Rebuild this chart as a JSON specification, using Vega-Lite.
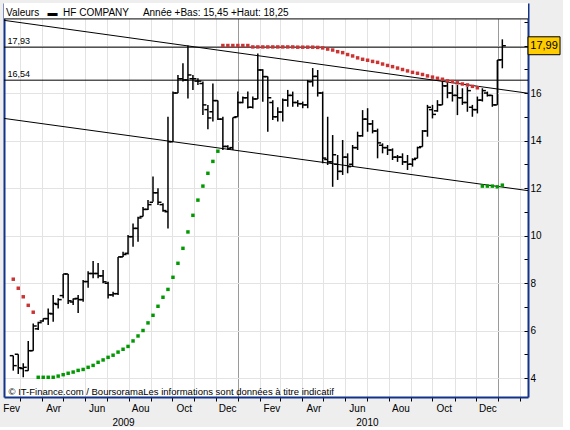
{
  "$schema": "https://vega.github.io/schema/vega-lite/v6.json",
  "width": 524,
  "height": 394,
  "padding": {"left": 2, "top": 3, "right": 0, "bottom": 0},
  "autosize": {"type": "pad"},
  "background": "#eeeeee",
  "config": {
    "view": {"fill": "white", "stroke": null},
    "font": "Liberation Sans",
    "axis": {"labelFont": "Liberation Sans", "labelColor": "#000", "titleFont": "Liberation Sans"}
  },
  "title": {
    "text": "Valeurs\u00a0\u00a0\u00a0▬\u00a0\u00a0HF COMPANY\u00a0\u00a0\u00a0\u00a0\u00a0Année +Bas: 15,45 +Haut: 18,25",
    "anchor": "start", "frame": "group", "orient": "top", "offset": -13, "dx": 2, "dy": 10,
    "font": "Liberation Sans", "fontSize": 10, "fontWeight": "normal", "color": "#000", "baseline": "alphabetic"
  },
  "datasets": {
    "w": [
      {"d": "2009-02-20", "o": 4.94, "h": 4.94, "l": 4.31, "c": 4.52, "s": 8.16, "t": "baisse"},
      {"d": "2009-02-27", "o": 5.0, "h": 5.0, "l": 4.17, "c": 4.43, "s": 7.78, "t": "baisse"},
      {"d": "2009-03-06", "o": 4.4, "h": 4.62, "l": 4.03, "c": 4.45, "s": 7.42, "t": "baisse"},
      {"d": "2009-03-13", "o": 4.31, "h": 5.56, "l": 4.31, "c": 5.15, "s": 7.06, "t": "baisse"},
      {"d": "2009-03-20", "o": 5.15, "h": 6.3, "l": 5.15, "c": 6.19, "s": 6.77, "t": "baisse"},
      {"d": "2009-03-27", "o": 6.07, "h": 6.37, "l": 6.02, "c": 6.33, "s": 4.03, "t": "hausse"},
      {"d": "2009-04-03", "o": 6.4, "h": 6.51, "l": 6.37, "c": 6.5, "s": 4.03, "t": "hausse"},
      {"d": "2009-04-10", "o": 6.5, "h": 6.93, "l": 6.23, "c": 6.72, "s": 4.03, "t": "hausse"},
      {"d": "2009-04-17", "o": 6.7, "h": 7.49, "l": 6.37, "c": 7.14, "s": 4.03, "t": "hausse"},
      {"d": "2009-04-24", "o": 7.1, "h": 7.36, "l": 6.93, "c": 7.3, "s": 4.08, "t": "hausse"},
      {"d": "2009-05-01", "o": 7.47, "h": 8.38, "l": 7.36, "c": 8.38, "s": 4.14, "t": "hausse"},
      {"d": "2009-05-08", "o": 8.38, "h": 8.38, "l": 7.12, "c": 7.25, "s": 4.2, "t": "hausse"},
      {"d": "2009-05-15", "o": 7.2, "h": 7.35, "l": 7.07, "c": 7.33, "s": 4.25, "t": "hausse"},
      {"d": "2009-05-22", "o": 7.35, "h": 7.49, "l": 6.74, "c": 7.3, "s": 4.32, "t": "hausse"},
      {"d": "2009-05-29", "o": 7.3, "h": 8.13, "l": 7.21, "c": 8.06, "s": 4.36, "t": "hausse"},
      {"d": "2009-06-05", "o": 8.06, "h": 8.5, "l": 7.8, "c": 8.4, "s": 4.45, "t": "hausse"},
      {"d": "2009-06-12", "o": 8.4, "h": 8.93, "l": 8.2, "c": 8.4, "s": 4.53, "t": "hausse"},
      {"d": "2009-06-19", "o": 8.4, "h": 8.84, "l": 8.2, "c": 8.3, "s": 4.66, "t": "hausse"},
      {"d": "2009-06-26", "o": 8.3, "h": 8.55, "l": 7.99, "c": 8.05, "s": 4.76, "t": "hausse"},
      {"d": "2009-07-03", "o": 7.99, "h": 8.05, "l": 7.35, "c": 7.5, "s": 4.87, "t": "hausse"},
      {"d": "2009-07-10", "o": 7.5, "h": 7.63, "l": 7.42, "c": 7.55, "s": 4.96, "t": "hausse"},
      {"d": "2009-07-17", "o": 7.55, "h": 9.1, "l": 7.5, "c": 9.1, "s": 5.09, "t": "hausse"},
      {"d": "2009-07-24", "o": 9.1, "h": 9.32, "l": 9.1, "c": 9.2, "s": 5.21, "t": "hausse"},
      {"d": "2009-07-31", "o": 9.25, "h": 10.02, "l": 9.2, "c": 9.95, "s": 5.33, "t": "hausse"},
      {"d": "2009-08-07", "o": 9.95, "h": 10.51, "l": 9.53, "c": 10.3, "s": 5.56, "t": "hausse"},
      {"d": "2009-08-14", "o": 10.3, "h": 10.79, "l": 9.74, "c": 10.74, "s": 5.77, "t": "hausse"},
      {"d": "2009-08-21", "o": 10.8, "h": 11.2, "l": 10.8, "c": 11.1, "s": 6.0, "t": "hausse"},
      {"d": "2009-08-28", "o": 11.1, "h": 11.5, "l": 11.07, "c": 11.3, "s": 6.32, "t": "hausse"},
      {"d": "2009-09-04", "o": 11.4, "h": 12.48, "l": 11.42, "c": 11.8, "s": 6.64, "t": "hausse"},
      {"d": "2009-09-11", "o": 11.8, "h": 11.99, "l": 11.28, "c": 11.4, "s": 7.02, "t": "hausse"},
      {"d": "2009-09-18", "o": 11.3, "h": 11.36, "l": 11.0, "c": 11.05, "s": 7.4, "t": "hausse"},
      {"d": "2009-09-25", "o": 11.0, "h": 15.0, "l": 10.3, "c": 13.95, "s": 7.73, "t": "hausse"},
      {"d": "2009-10-02", "o": 13.95, "h": 16.06, "l": 13.95, "c": 16.0, "s": 8.24, "t": "hausse"},
      {"d": "2009-10-09", "o": 16.0, "h": 16.76, "l": 16.0, "c": 16.6, "s": 8.83, "t": "hausse"},
      {"d": "2009-10-16", "o": 16.6, "h": 17.25, "l": 16.48, "c": 16.55, "s": 9.46, "t": "hausse"},
      {"d": "2009-10-23", "o": 16.55, "h": 18.0, "l": 15.77, "c": 16.76, "s": 10.15, "t": "hausse"},
      {"d": "2009-10-30", "o": 16.6, "h": 16.76, "l": 16.13, "c": 16.6, "s": 10.85, "t": "hausse"},
      {"d": "2009-11-06", "o": 16.5, "h": 16.62, "l": 16.34, "c": 16.5, "s": 11.49, "t": "hausse"},
      {"d": "2009-11-13", "o": 16.4, "h": 16.48, "l": 15.07, "c": 15.5, "s": 12.08, "t": "hausse"},
      {"d": "2009-11-20", "o": 15.3, "h": 15.5, "l": 14.47, "c": 14.95, "s": 12.62, "t": "hausse"},
      {"d": "2009-11-27", "o": 15.21, "h": 16.4, "l": 14.8, "c": 15.68, "s": 13.12, "t": "hausse"},
      {"d": "2009-12-04", "o": 15.68, "h": 15.68, "l": 14.86, "c": 14.9, "s": 13.55, "t": "hausse"},
      {"d": "2009-12-11", "o": 14.9, "h": 15.0, "l": 13.6, "c": 13.75, "s": 18.0, "t": "baisse"},
      {"d": "2009-12-18", "o": 13.75, "h": 13.8, "l": 13.6, "c": 13.65, "s": 18.0, "t": "baisse"},
      {"d": "2009-12-25", "o": 13.7, "h": 14.97, "l": 13.6, "c": 14.97, "s": 18.0, "t": "baisse"},
      {"d": "2010-01-01", "o": 15.0, "h": 16.06, "l": 15.0, "c": 15.6, "s": 18.0, "t": "baisse"},
      {"d": "2010-01-08", "o": 15.6, "h": 15.85, "l": 15.57, "c": 15.8, "s": 18.0, "t": "baisse"},
      {"d": "2010-01-15", "o": 15.8, "h": 16.06, "l": 15.35, "c": 15.4, "s": 18.0, "t": "baisse"},
      {"d": "2010-01-22", "o": 15.4, "h": 15.85, "l": 15.35, "c": 15.75, "s": 17.94, "t": "baisse"},
      {"d": "2010-01-29", "o": 15.75, "h": 17.66, "l": 15.75, "c": 16.97, "s": 17.94, "t": "baisse"},
      {"d": "2010-02-05", "o": 16.97, "h": 17.0, "l": 15.63, "c": 16.69, "s": 17.94, "t": "baisse"},
      {"d": "2010-02-12", "o": 16.69, "h": 16.69, "l": 14.37, "c": 15.8, "s": 17.94, "t": "baisse"},
      {"d": "2010-02-19", "o": 15.6, "h": 15.7, "l": 14.86, "c": 15.0, "s": 17.94, "t": "baisse"},
      {"d": "2010-02-26", "o": 15.0, "h": 15.4, "l": 14.8, "c": 15.2, "s": 17.94, "t": "baisse"},
      {"d": "2010-03-05", "o": 15.2, "h": 15.77, "l": 14.8, "c": 15.7, "s": 17.94, "t": "baisse"},
      {"d": "2010-03-12", "o": 15.7, "h": 16.13, "l": 15.42, "c": 15.9, "s": 17.94, "t": "baisse"},
      {"d": "2010-03-19", "o": 15.9, "h": 16.06, "l": 15.42, "c": 15.6, "s": 17.94, "t": "baisse"},
      {"d": "2010-03-26", "o": 15.6, "h": 15.7, "l": 15.42, "c": 15.55, "s": 17.93, "t": "baisse"},
      {"d": "2010-04-02", "o": 15.55, "h": 15.64, "l": 15.36, "c": 15.5, "s": 17.93, "t": "baisse"},
      {"d": "2010-04-09", "o": 15.5, "h": 16.55, "l": 15.36, "c": 16.48, "s": 17.93, "t": "baisse"},
      {"d": "2010-04-16", "o": 16.48, "h": 17.05, "l": 16.27, "c": 16.7, "s": 17.93, "t": "baisse"},
      {"d": "2010-04-23", "o": 16.7, "h": 16.97, "l": 15.85, "c": 16.0, "s": 17.92, "t": "baisse"},
      {"d": "2010-04-30", "o": 16.0, "h": 16.06, "l": 13.04, "c": 13.26, "s": 17.9, "t": "baisse"},
      {"d": "2010-05-07", "o": 13.2, "h": 15.0, "l": 12.97, "c": 13.1, "s": 17.85, "t": "baisse"},
      {"d": "2010-05-14", "o": 13.1, "h": 14.23, "l": 12.05, "c": 13.4, "s": 17.81, "t": "baisse"},
      {"d": "2010-05-21", "o": 13.0, "h": 13.39, "l": 12.34, "c": 12.7, "s": 17.74, "t": "baisse"},
      {"d": "2010-05-28", "o": 12.7, "h": 14.02, "l": 12.55, "c": 13.3, "s": 17.7, "t": "baisse"},
      {"d": "2010-06-04", "o": 13.3, "h": 13.46, "l": 12.62, "c": 12.9, "s": 17.62, "t": "baisse"},
      {"d": "2010-06-11", "o": 13.0, "h": 13.81, "l": 12.9, "c": 13.7, "s": 17.56, "t": "baisse"},
      {"d": "2010-06-18", "o": 13.7, "h": 14.37, "l": 13.6, "c": 14.2, "s": 17.48, "t": "baisse"},
      {"d": "2010-06-25", "o": 14.2, "h": 15.28, "l": 14.16, "c": 14.9, "s": 17.42, "t": "baisse"},
      {"d": "2010-07-02", "o": 14.9, "h": 15.36, "l": 14.37, "c": 14.7, "s": 17.38, "t": "baisse"},
      {"d": "2010-07-09", "o": 14.7, "h": 14.86, "l": 14.3, "c": 14.4, "s": 17.33, "t": "baisse"},
      {"d": "2010-07-16", "o": 14.4, "h": 14.5, "l": 13.25, "c": 13.9, "s": 17.29, "t": "baisse"},
      {"d": "2010-07-23", "o": 13.8, "h": 13.88, "l": 13.46, "c": 13.7, "s": 17.22, "t": "baisse"},
      {"d": "2010-07-30", "o": 13.7, "h": 13.81, "l": 13.39, "c": 13.6, "s": 17.16, "t": "baisse"},
      {"d": "2010-08-06", "o": 13.6, "h": 13.67, "l": 13.18, "c": 13.3, "s": 17.11, "t": "baisse"},
      {"d": "2010-08-13", "o": 13.3, "h": 13.39, "l": 13.1, "c": 13.3, "s": 17.05, "t": "baisse"},
      {"d": "2010-08-20", "o": 13.3, "h": 13.46, "l": 12.97, "c": 13.1, "s": 16.99, "t": "baisse"},
      {"d": "2010-08-27", "o": 13.1, "h": 13.39, "l": 12.76, "c": 13.0, "s": 16.93, "t": "baisse"},
      {"d": "2010-09-03", "o": 13.0, "h": 13.25, "l": 12.9, "c": 13.2, "s": 16.87, "t": "baisse"},
      {"d": "2010-09-10", "o": 13.25, "h": 13.74, "l": 13.25, "c": 13.7, "s": 16.83, "t": "baisse"},
      {"d": "2010-09-17", "o": 13.74, "h": 14.44, "l": 13.74, "c": 14.4, "s": 16.78, "t": "baisse"},
      {"d": "2010-09-24", "o": 14.4, "h": 15.5, "l": 14.16, "c": 15.4, "s": 16.72, "t": "baisse"},
      {"d": "2010-10-01", "o": 15.3, "h": 15.5, "l": 14.93, "c": 15.1, "s": 16.67, "t": "baisse"},
      {"d": "2010-10-08", "o": 15.25, "h": 15.7, "l": 15.21, "c": 15.5, "s": 16.62, "t": "baisse"},
      {"d": "2010-10-15", "o": 15.5, "h": 16.55, "l": 15.5, "c": 16.3, "s": 16.58, "t": "baisse"},
      {"d": "2010-10-22", "o": 16.3, "h": 16.48, "l": 15.78, "c": 16.0, "s": 16.51, "t": "baisse"},
      {"d": "2010-10-29", "o": 16.0, "h": 16.34, "l": 15.64, "c": 15.9, "s": 16.48, "t": "baisse"},
      {"d": "2010-11-05", "o": 15.9, "h": 16.34, "l": 15.07, "c": 15.8, "s": 16.43, "t": "baisse"},
      {"d": "2010-11-12", "o": 15.8, "h": 16.2, "l": 15.5, "c": 15.6, "s": 16.38, "t": "baisse"},
      {"d": "2010-11-19", "o": 15.6, "h": 16.27, "l": 15.21, "c": 16.1, "s": 16.34, "t": "baisse"},
      {"d": "2010-11-26", "o": 15.4, "h": 15.5, "l": 15.0, "c": 15.3, "s": 16.28, "t": "baisse"},
      {"d": "2010-12-03", "o": 15.3, "h": 15.85, "l": 15.14, "c": 15.7, "s": 16.22, "t": "baisse"},
      {"d": "2010-12-10", "o": 15.7, "h": 16.2, "l": 15.64, "c": 16.1, "s": 12.08, "t": "hausse"},
      {"d": "2010-12-17", "o": 16.0, "h": 16.06, "l": 15.85, "c": 15.9, "s": 12.08, "t": "hausse"},
      {"d": "2010-12-24", "o": 15.9, "h": 15.92, "l": 15.42, "c": 15.5, "s": 12.08, "t": "hausse"},
      {"d": "2010-12-31", "o": 15.5, "h": 17.39, "l": 15.5, "c": 17.39, "s": 12.05, "t": "hausse"},
      {"d": "2011-01-07", "o": 17.4, "h": 18.26, "l": 17.04, "c": 17.99, "s": 12.12, "t": "hausse"}
    ],
    "lv": [{"v": 17.93}, {"v": 16.54}, {"v": 19.12}],
    "tr": [
      {"a": "2009-02-07", "p": 19.06, "b": "2011-02-12", "q": 15.99},
      {"a": "2009-02-07", "p": 14.93, "b": "2011-02-12", "q": 11.89}
    ],
    "one": [{"k": 1}]
  },
  "resolve": {"axis": {"x": "independent", "y": "independent"}},
  "layer": [
    {
      "data": {"name": "w"},
      "mark": {"type": "rule", "color": "#000", "strokeWidth": 1.5},
      "encoding": {
        "x": {"field": "d", "type": "temporal",
          "scale": {"type": "utc", "nice": false, "domain": [{"year": 2009, "month": 2, "date": 7, "utc": true}, {"year": 2011, "month": 2, "date": 12, "utc": true}]},
          "axis": {
            "orient": "bottom",
            "values": [
              {"year": 2009, "month": 3, "date": 1, "utc": true}, {"year": 2009, "month": 4, "date": 1, "utc": true},
              {"year": 2009, "month": 5, "date": 1, "utc": true}, {"year": 2009, "month": 6, "date": 1, "utc": true},
              {"year": 2009, "month": 7, "date": 1, "utc": true}, {"year": 2009, "month": 8, "date": 1, "utc": true},
              {"year": 2009, "month": 9, "date": 1, "utc": true}, {"year": 2009, "month": 10, "date": 1, "utc": true},
              {"year": 2009, "month": 11, "date": 1, "utc": true}, {"year": 2009, "month": 12, "date": 1, "utc": true},
              {"year": 2010, "month": 1, "date": 1, "utc": true}, {"year": 2010, "month": 2, "date": 1, "utc": true},
              {"year": 2010, "month": 3, "date": 1, "utc": true}, {"year": 2010, "month": 4, "date": 1, "utc": true},
              {"year": 2010, "month": 5, "date": 1, "utc": true}, {"year": 2010, "month": 6, "date": 1, "utc": true},
              {"year": 2010, "month": 7, "date": 1, "utc": true}, {"year": 2010, "month": 8, "date": 1, "utc": true},
              {"year": 2010, "month": 9, "date": 1, "utc": true}, {"year": 2010, "month": 10, "date": 1, "utc": true},
              {"year": 2010, "month": 11, "date": 1, "utc": true}, {"year": 2010, "month": 12, "date": 1, "utc": true},
              {"year": 2011, "month": 1, "date": 1, "utc": true}, {"year": 2011, "month": 2, "date": 1, "utc": true}
            ],
            "labels": false,
            "grid": true,
            "gridColor": {"condition": {"test": "utcmonth(datum.value) === 0", "value": "#9a9a9a"}, "value": "#e3e3e3"},
            "ticks": true, "tickSize": 4, "tickColor": "#000",
            "domain": true, "domainColor": "#13338a", "domainWidth": 2,
            "title": "© IT-Finance.com / BoursoramaLes informations sont données à titre indicatif",
            "titleFont": "Liberation Sans", "titleFontSize": 9.5, "titleFontWeight": "normal", "titleColor": "#000",
            "titleAnchor": "start", "titleAlign": "left", "titleBaseline": "middle", "titleX": 4, "titleY": -6
          }
        },
        "y": {"field": "l", "type": "quantitative",
          "scale": {"domain": [3.2, 19.79], "nice": false, "zero": false},
          "axis": {
            "orient": "right",
            "values": [4, 5, 6, 7, 8, 9, 10, 11, 12, 13, 14, 15, 16, 17, 18, 19],
            "grid": true,
            "gridColor": {"condition": {"test": "datum.value % 2 === 0", "value": "#e3e3e3"}, "value": "transparent"},
            "ticks": true, "tickSize": -4, "tickColor": "#000",
            "labelExpr": "datum.value % 2 === 0 && datum.value < 18 ? datum.label : ''",
            "labelFontSize": 10, "labelPadding": 6, "labelOverlap": false,
            "domain": true, "domainColor": "#13338a", "domainWidth": 2,
            "title": null
          }
        },
        "y2": {"field": "h"}
      }
    },
    {
      "data": {"name": "w"},
      "mark": {"type": "rule", "color": "#000", "strokeWidth": 1.5, "xOffset": -3.5, "x2Offset": 0},
      "encoding": {
        "x": {"field": "d", "type": "temporal",
          "scale": {"type": "utc", "nice": false, "domain": [{"year": 2009, "month": 2, "date": 7, "utc": true}, {"year": 2011, "month": 2, "date": 12, "utc": true}]},
          "axis": {
            "orient": "bottom",
            "values": [
              {"year": 2009, "month": 2, "date": 17, "utc": true}, {"year": 2009, "month": 4, "date": 17, "utc": true},
              {"year": 2009, "month": 6, "date": 17, "utc": true}, {"year": 2009, "month": 8, "date": 17, "utc": true},
              {"year": 2009, "month": 10, "date": 17, "utc": true}, {"year": 2009, "month": 12, "date": 17, "utc": true},
              {"year": 2010, "month": 2, "date": 17, "utc": true}, {"year": 2010, "month": 4, "date": 17, "utc": true},
              {"year": 2010, "month": 6, "date": 17, "utc": true}, {"year": 2010, "month": 8, "date": 17, "utc": true},
              {"year": 2010, "month": 10, "date": 17, "utc": true}, {"year": 2010, "month": 12, "date": 17, "utc": true}
            ],
            "labelExpr": "['Jan','Fev','Mar','Avr','Mai','Jun','Jul','Aou','Sep','Oct','Nov','Dec'][utcmonth(datum.value)]",
            "labelFontSize": 10, "labelPadding": 6, "labelFlush": false, "labelOverlap": false,
            "ticks": false, "grid": false, "domain": false, "title": null
          }
        },
        "x2": {"field": "d"},
        "y": {"field": "o", "type": "quantitative", "scale": {"domain": [3.2, 19.79], "nice": false, "zero": false}, "axis": null}
      }
    },
    {
      "data": {"name": "w"},
      "mark": {"type": "rule", "color": "#000", "strokeWidth": 1.5, "xOffset": 0, "x2Offset": 3.5},
      "encoding": {
        "x": {"field": "d", "type": "temporal",
          "scale": {"type": "utc", "nice": false, "domain": [{"year": 2009, "month": 2, "date": 7, "utc": true}, {"year": 2011, "month": 2, "date": 12, "utc": true}]},
          "axis": {
            "orient": "bottom",
            "values": [{"year": 2009, "month": 7, "date": 24, "utc": true}, {"year": 2010, "month": 7, "date": 1, "utc": true}],
            "labelExpr": "utcFormat(datum.value, '%Y')",
            "labelFontSize": 10, "labelPadding": 20, "labelFlush": false,
            "ticks": false, "grid": false, "domain": false, "title": null
          }
        },
        "x2": {"field": "d"},
        "y": {"field": "c", "type": "quantitative", "scale": {"domain": [3.2, 19.79], "nice": false, "zero": false}, "axis": null}
      }
    },
    {
      "data": {"name": "one"},
      "mark": {"type": "rect", "color": "white"},
      "encoding": {
        "y": {"datum": 19.12, "type": "quantitative", "scale": {"domain": [3.2, 19.79], "nice": false, "zero": false}, "axis": null},
        "y2": {"datum": 19.79}
      }
    },
    {
      "data": {"name": "tr"},
      "mark": {"type": "rule", "color": "#000", "strokeWidth": 1},
      "encoding": {
        "x": {"field": "a", "type": "temporal", "scale": {"type": "utc", "nice": false, "domain": [{"year": 2009, "month": 2, "date": 7, "utc": true}, {"year": 2011, "month": 2, "date": 12, "utc": true}]}, "axis": null},
        "x2": {"field": "b"},
        "y": {"field": "p", "type": "quantitative", "scale": {"domain": [3.2, 19.79], "nice": false, "zero": false}, "axis": null},
        "y2": {"field": "q"}
      }
    },
    {
      "data": {"name": "lv"},
      "mark": {"type": "rule", "color": "#000", "strokeWidth": 1},
      "encoding": {
        "y": {"field": "v", "type": "quantitative", "scale": {"domain": [3.2, 19.79], "nice": false, "zero": false},
          "axis": {
            "orient": "left", "values": [17.93, 16.54],
            "labelExpr": "replace(format(datum.value, '.2f'), '.', ',')",
            "labelAlign": "left", "labelBaseline": "bottom", "labelPadding": -3, "labelOffset": -2,
            "labelFontSize": 9, "ticks": false, "grid": false,
            "domain": true, "domainColor": "#13338a", "domainWidth": 2, "title": null
          }
        }
      }
    },
    {
      "data": {"name": "w"},
      "mark": {"type": "point", "shape": "square", "filled": true, "size": 12, "opacity": 1},
      "encoding": {
        "x": {"field": "d", "type": "temporal", "scale": {"type": "utc", "nice": false, "domain": [{"year": 2009, "month": 2, "date": 7, "utc": true}, {"year": 2011, "month": 2, "date": 12, "utc": true}]}, "axis": null},
        "y": {"field": "s", "type": "quantitative", "scale": {"domain": [3.2, 19.79], "nice": false, "zero": false}, "axis": null},
        "color": {"field": "t", "type": "nominal", "scale": {"domain": ["baisse", "hausse"], "range": ["#cc3333", "#009900"]}, "legend": null}
      }
    },
    {
      "data": {"name": "w"},
      "transform": [{"filter": "datum.c === 17.99"}],
      "mark": {"type": "point", "shape": "M-1,-0.56H1V0.56H-1Z", "size": 1024, "filled": true, "fill": "#ffcc00", "stroke": "#000", "strokeWidth": 1, "opacity": 1, "xOffset": 41.7},
      "encoding": {
        "x": {"field": "d", "type": "temporal", "scale": {"type": "utc", "nice": false, "domain": [{"year": 2009, "month": 2, "date": 7, "utc": true}, {"year": 2011, "month": 2, "date": 12, "utc": true}]}, "axis": null},
        "y": {"field": "c", "type": "quantitative", "scale": {"domain": [3.2, 19.79], "nice": false, "zero": false}, "axis": null}
      }
    },
    {
      "data": {"name": "w"},
      "transform": [{"filter": "datum.c === 17.99"}, {"calculate": "replace(format(datum.c, '.2f'), '.', ',')", "as": "lab"}],
      "mark": {"type": "text", "font": "Liberation Sans", "fontSize": 11, "color": "#000", "align": "center", "baseline": "middle", "xOffset": 41.7, "yOffset": 0.5},
      "encoding": {
        "x": {"field": "d", "type": "temporal", "scale": {"type": "utc", "nice": false, "domain": [{"year": 2009, "month": 2, "date": 7, "utc": true}, {"year": 2011, "month": 2, "date": 12, "utc": true}]}, "axis": null},
        "y": {"field": "c", "type": "quantitative", "scale": {"domain": [3.2, 19.79], "nice": false, "zero": false}, "axis": null},
        "text": {"field": "lab"}
      }
    }
  ]
}
